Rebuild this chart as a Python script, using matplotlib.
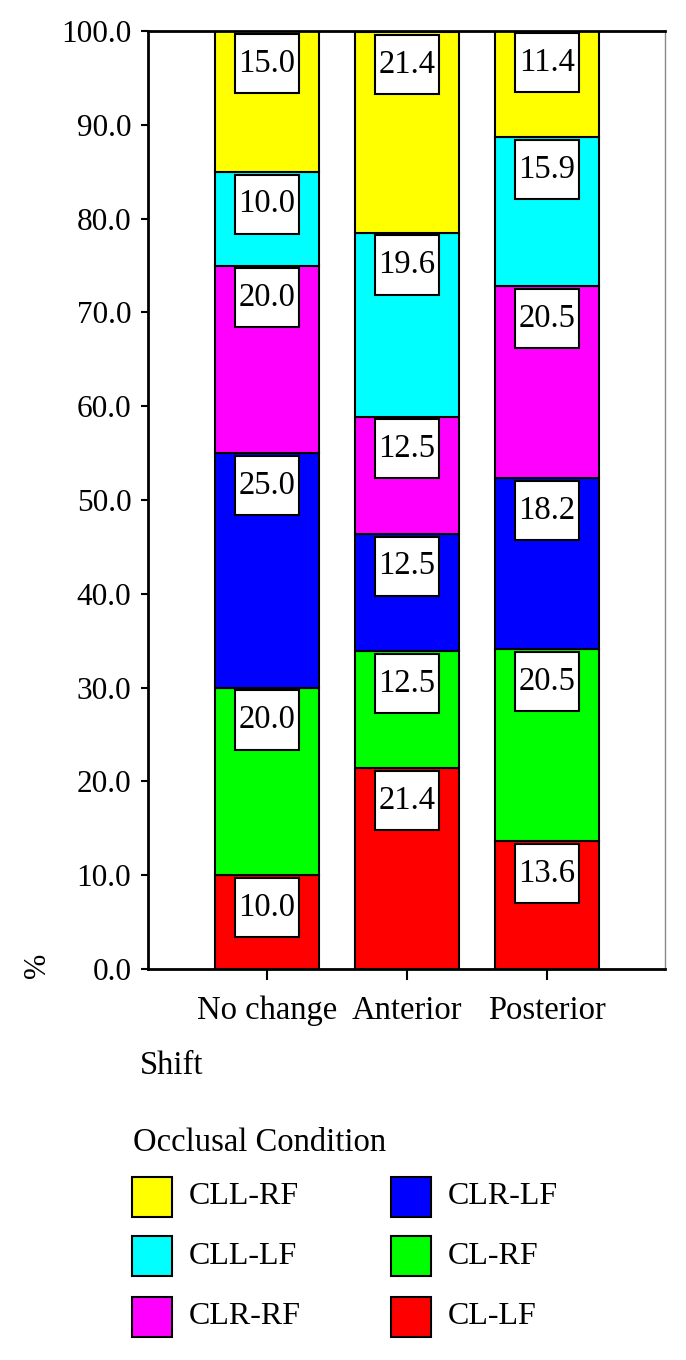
import numpy as np
import matplotlib.pyplot as plt
from matplotlib.patches import Rectangle

plt.rcParams['font.family'] = ['Liberation Serif', 'DejaVu Serif']

# data
shifts = ['No change', 'Anterior', 'Posterior']
conditions = ['CL-LF', 'CL-RF', 'CLR-LF', 'CLR-RF', 'CLL-LF', 'CLL-RF']
colors = ['#ff0000', '#00ff00', '#0000ff', '#ff00ff', '#00ffff', '#ffff00']
cl_lf = [10.0, 21.4, 13.6]
cl_rf = [20.0, 12.5, 20.5]
clr_lf = [25.0, 12.5, 18.2]
clr_rf = [20.0, 12.5, 20.5]
cll_lf = [10.0, 19.6, 15.9]
cll_rf = [15.0, 21.4, 11.4]
series = [cl_lf, cl_rf, clr_lf, clr_rf, cll_lf, cll_rf]

W, H = 686, 1360
fig = plt.figure(figsize=(W / 100, H / 100), dpi=100)
ax = fig.add_axes([148 / W, 1 - 969 / H, (665 - 148) / W, (969 - 31) / H])

x = np.arange(len(shifts))
bottom = np.zeros(len(shifts))
box_h, box_gap = 6.3, 0.3
for vals, col in zip(series, colors):
    vals = np.array(vals)
    ax.bar(x, vals, bottom=bottom, width=0.743, color=col,
           edgecolor='black', linewidth=1.5, zorder=2)
    top = bottom + vals
    # white label boxes
    ax.bar(x, box_h, bottom=top - box_gap - box_h, width=0.453,
           color='white', edgecolor='black', linewidth=1.5, zorder=3)
    for xi, t, v in zip(x, top, vals):
        ax.text(xi, t - box_gap - box_h / 2, f'{v:.1f}', ha='center',
                va='center', fontsize=23.5, zorder=4)
    bottom = top

ax.set_xlim(-0.85, 2.843)
ax.set_ylim(0, 100)
ax.set_yticks(np.arange(0, 101, 10))
ax.set_yticklabels([f'{v:.1f}' for v in np.arange(0, 101, 10)])
ax.set_xticks(x)
ax.set_xticklabels(shifts)
ax.tick_params(axis='y', length=5, width=1.5, pad=7, labelsize=22.5)
ax.tick_params(axis='x', length=8, width=1.5, pad=11, labelsize=23.5)
for s in ['left', 'bottom', 'top']:
    ax.spines[s].set_linewidth(2)
ax.spines['right'].set_color('#888888')
ax.spines['right'].set_linewidth(1)

fig.text(38 / W, 1 - 965 / H, '%', rotation=90, ha='center', va='center',
         fontsize=22)
fig.text(140 / W, 1 - 1066 / H, 'Shift', ha='left', va='center', fontsize=23.5)

# legend drawn by hand
fig.text(133 / W, 1 - 1143 / H, 'Occlusal Condition', ha='left',
         va='center', fontsize=23.5)
order = list(range(len(conditions)))[::-1]
row_y = [1197, 1256, 1317]
col_x = [132, 391]
for i, k in enumerate(order):
    c, r = divmod(i, 3)
    cx, cy = col_x[c], row_y[r]
    fig.add_artist(Rectangle((cx / W, 1 - (cy + 20) / H), 40 / W, 40 / H,
                             transform=fig.transFigure, facecolor=colors[k],
                             edgecolor='black', linewidth=1.5))
    fig.text((cx + 57) / W, 1 - cy / H, conditions[k], ha='left',
             va='center', fontsize=23)

fig.savefig('out.png', dpi=100)
